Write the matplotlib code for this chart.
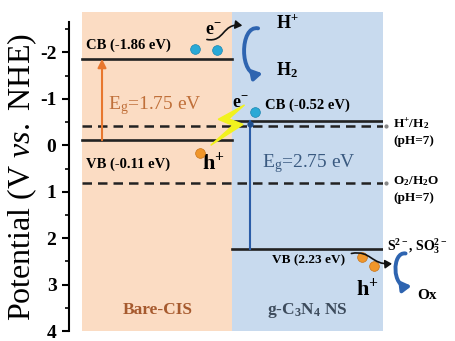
import numpy as np
import matplotlib
matplotlib.use('Agg')
import matplotlib.pyplot as plt
from matplotlib.patches import FancyArrowPatch, Polygon
from matplotlib.path import Path

# band edges (eV vs NHE)
materials = ['Bare-CIS', 'g-C$_\\mathbf{3}$N$_\\mathbf{4}$ NS']
cb = [-1.86, -0.52]
vb = [-0.11, 2.23]
redox_levels = [-0.41, 0.82]
redox_names = ['H$^{\\mathbf{+}}$/H$_{\\mathbf{2}}$', 'O$_{\\mathbf{2}}$/H$_{\\mathbf{2}}$O']
yticks = [-2, -1, 0, 1, 2, 3, 4]

plt.rcParams['font.family'] = 'Liberation Serif'
plt.rcParams['mathtext.fontset'] = 'custom'
plt.rcParams['mathtext.rm'] = 'Liberation Serif'
plt.rcParams['mathtext.it'] = 'Liberation Serif:italic'
plt.rcParams['mathtext.bf'] = 'Liberation Serif:bold'
plt.rcParams['axes.unicode_minus'] = False

panel_colors = ['#fbdcc3', '#c8daee']
name_colors = ['#a65a2e', '#3d4b5c']
gap_colors = ['#c0703a', '#3a5a80']
bar_colors = ['#e8772e', '#2b5da8']


def curve(p0, c1, c2, p1):
    return Path([p0, c1, c2, p1], [Path.MOVETO, Path.CURVE4, Path.CURVE4, Path.CURVE4])


fig = plt.figure(figsize=(4.56, 3.41), dpi=100)
ax = fig.add_axes([69 / 456, 10 / 341, 314 / 456, 319 / 341])
ax.set_xlim(-13 / 150.5, 2)
ax.set_ylim(4.0, -2.872)

# material panels
for i in range(2):
    ax.axvspan(i, i + 1, color=panel_colors[i], lw=0, zorder=0)

# band edges
for i in range(2):
    ax.plot([i, i + 1], [cb[i], cb[i]], color='#222222', lw=1.9, zorder=3)
    ax.plot([i, i + 1], [vb[i], vb[i]], color='#222222', lw=1.9, zorder=3)

# redox potentials
for lvl in redox_levels:
    ax.plot([0, 2], [lvl, lvl], color='#222222', lw=1.8, ls=(0, (3.8, 2.4)), zorder=3)
    ax.plot([2.02], [lvl], 'o', ms=2, color='#888888', clip_on=False)

# band gaps
xg = [0.133, 1.116]
ax.add_patch(FancyArrowPatch((xg[0], vb[0]), (xg[0], cb[0]), arrowstyle='-|>,head_length=5,head_width=2.5',
                             color=bar_colors[0], lw=1.5, shrinkA=0, shrinkB=0, zorder=4))
ax.plot([xg[1], xg[1]], [cb[1], vb[1]], color=bar_colors[1], lw=1.5, zorder=4)
ax.plot([xg[1]], [cb[1] + 0.05], 'o', ms=3.5, color='#1f4f8f', zorder=5)

ax.text(0.173, -0.85, 'E$_\\mathrm{g}$=%.2f eV' % (vb[0] - cb[0]), color=gap_colors[0],
        fontsize=14, va='center', ha='left', zorder=5)
ax.text(1.196, 0.40, 'E$_\\mathrm{g}$=%.2f eV' % (vb[1] - cb[1]), color=gap_colors[1],
        fontsize=14, va='center', ha='left', zorder=5)

# band labels
ax.text(0.027, cb[0] - 0.14, 'CB (%.2f eV)' % cb[0], fontsize=10.5, fontweight='bold', va='bottom')
ax.text(0.027, vb[0] + 0.38, 'VB (%.2f eV)' % vb[0], fontsize=10.5, fontweight='bold', va='top')
ax.text(1.216, cb[1] - 0.2, 'CB (%.2f eV)' % cb[1], fontsize=10.5, fontweight='bold', va='bottom')
ax.text(1.262, vb[1] + 0.12, 'VB (%.2f eV)' % vb[1], fontsize=9.5, fontweight='bold', va='top')

# electrons
ax.plot([0.75, 0.897], [cb[0] - 0.22, cb[0] - 0.19], 'o', ms=7, color='#29a9d6', mec='#1b86b0', mew=0.5, zorder=6)
ax.plot([1.15], [cb[1] - 0.2], 'o', ms=7, color='#29a9d6', mec='#1b86b0', mew=0.5, zorder=6)
ax.text(0.87, cb[0] - 0.62, 'e$^{\\mathbf{-}}$', fontsize=13, fontweight='bold', ha='center', va='center')
ax.text(1.05, cb[1] - 0.38, 'e$^{\\mathbf{-}}$', fontsize=13, fontweight='bold', ha='center', va='center')

# holes
ax.plot([0.784], [vb[0] + 0.28], 'o', ms=7, color='#f0962a', mec='#c8741a', mew=0.5, zorder=6)
ax.plot([1.86, 1.94], [vb[1] + 0.17, vb[1] + 0.36], 'o', ms=7, color='#f0962a', mec='#c8741a',
        mew=0.5, zorder=6, clip_on=False)
ax.text(0.87, vb[0] + 0.5, 'h$^{\\mathbf{+}}$', fontsize=16, fontweight='bold', ha='center', va='center')
ax.text(1.894, vb[1] + 0.87, 'h$^{\\mathbf{+}}$', fontsize=16, fontweight='bold', ha='center', va='center')

# light excitation
bolt = [(1.08, -0.87), (0.905, -0.56), (1.003, -0.43), (0.855, 0.0),
        (1.07, -0.45), (0.975, -0.57)]
ax.add_patch(Polygon(bolt, closed=True, color='#f2f21e', zorder=5))

# electron transfer to H+
path = curve((0.83, cb[0] - 0.42), (0.95, cb[0] - 0.35), (0.93, cb[0] - 0.78), (1.065, cb[0] - 0.72))
ax.add_patch(FancyArrowPatch(path=path, arrowstyle='-|>,head_length=4,head_width=2.5',
                             color='#111111', lw=1.2, zorder=6))
path = curve((1.17, -2.52), (1.045, -2.6), (1.045, -1.45), (1.2, -1.55))
ax.add_patch(FancyArrowPatch(path=path, arrowstyle='-|>,head_length=5,head_width=3',
                             color='#2e64b0', lw=2.8, zorder=6))
ax.text(1.29, -2.64, 'H$^{\\mathbf{+}}$', fontsize=13, fontweight='bold', va='center')
ax.text(1.29, -1.62, 'H$_{\\mathbf{2}}$', fontsize=13, fontweight='bold', va='center')

# hole transfer to sacrificial agent
path = curve((1.79, vb[1] + 0.1), (1.92, vb[1] + 0.02), (1.92, vb[1] + 0.35), (2.06, vb[1] + 0.32))
ax.add_patch(FancyArrowPatch(path=path, arrowstyle='-|>,head_length=4,head_width=2.5',
                             color='#111111', lw=1.2, zorder=6, clip_on=False))
path = curve((2.15, vb[1] + 0.1), (2.058, vb[1] + 0.05), (2.058, vb[1] + 0.85), (2.19, vb[1] + 0.8))
ax.add_patch(FancyArrowPatch(path=path, arrowstyle='-|>,head_length=5,head_width=3',
                             color='#2e64b0', lw=2.8, zorder=6, clip_on=False))
ax.text(2.027, vb[1] - 0.05, 'S$^{\\mathbf{2-}}$, SO$_\\mathbf{3}^{\\mathbf{2-}}$', fontsize=10,
        fontweight='bold', va='center', clip_on=False)
ax.text(2.23, vb[1] + 1.0, 'Ox', fontsize=11, fontweight='bold', va='center')

# redox labels
for lvl, name in zip(redox_levels, redox_names):
    ax.text(2.066, lvl - 0.04, name, fontsize=9.5, fontweight='bold', va='center')
    ax.text(2.066, lvl + 0.32, '(pH=7)', fontsize=9.5, fontweight='bold', va='center')

# material names
for i in range(2):
    ax.text(i + 0.5, 3.55, materials[i], fontsize=12.5, fontweight='bold', color=name_colors[i],
            ha='center', va='center')

# axes styling
for side in ['top', 'right', 'bottom']:
    ax.spines[side].set_visible(False)
ax.spines['left'].set_linewidth(1.5)
ax.spines['left'].set_bounds(4, -2.66)
ax.set_xticks([])
ax.set_yticks(yticks)
ax.set_yticks(np.arange(-2.5, 4, 1), minor=True)
ax.tick_params(axis='y', which='major', direction='out', length=5, width=1.5, labelsize=14, pad=4)
ax.tick_params(axis='y', which='minor', direction='out', length=3, width=1.2)
for lab in ax.get_yticklabels():
    lab.set_fontweight('bold')

fig.text(22 / 456, 0.48, 'Potential (V $\\mathit{vs.}$ NHE)', rotation=90, fontsize=23,
         ha='center', va='center')

fig.savefig('out.png', dpi=100)
